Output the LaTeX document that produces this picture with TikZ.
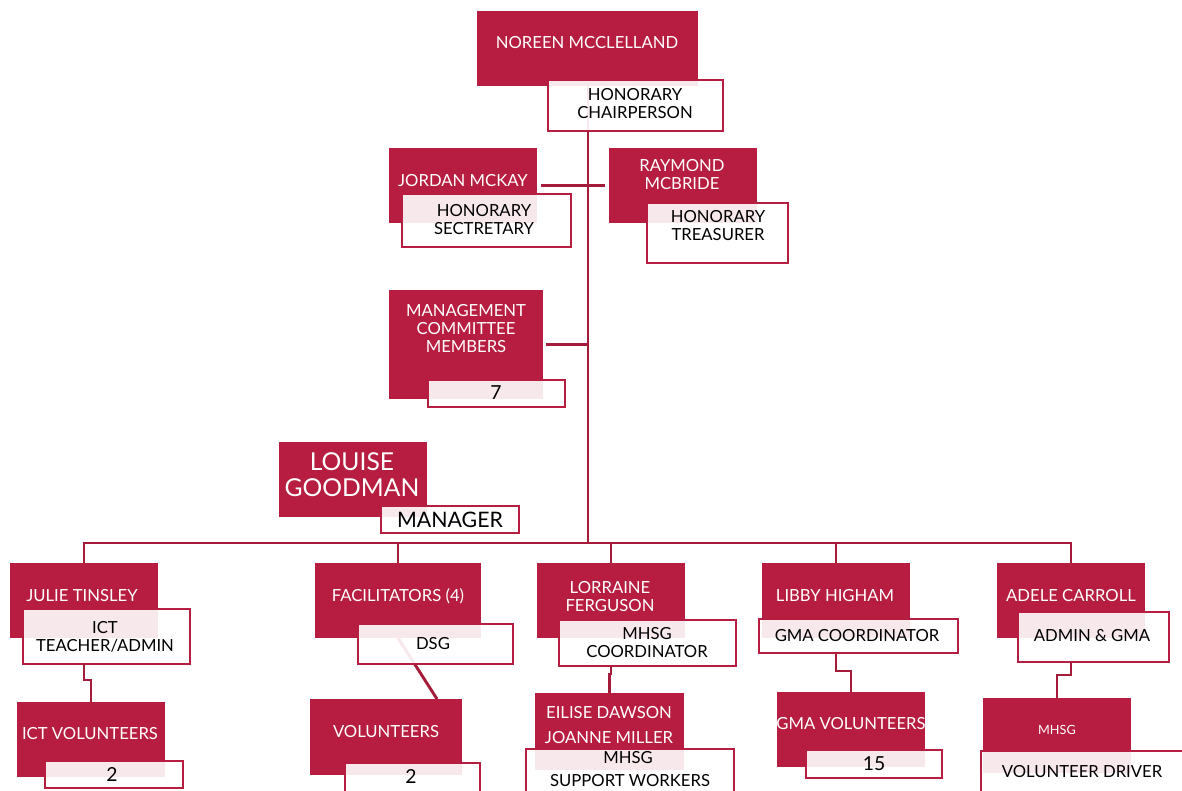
\documentclass[tikz,border=0pt]{standalone}
\usepackage{fontspec}
\setmainfont{Lato}
\usetikzlibrary{fit}
\definecolor{crim}{RGB}{183,29,64}
\definecolor{connc}{RGB}{165,28,58}
\begin{document}
\begin{tikzpicture}[x=0.75pt,y=-0.75pt,
  redbox/.style={fill=crim, draw=none, inner sep=0pt, outer sep=0pt},
  whitebox/.style={fill=white, fill opacity=0.9, draw=crim, line width=2.1pt, inner sep=0pt, outer sep=0pt},
  conn/.style={draw=connc, line width=2.2pt},
  wt/.style={text=white, font=\fontsize{12.5}{13.5}\selectfont, align=center, inner sep=0pt},
  bt/.style={text=black, font=\fontsize{12.5}{13.5}\selectfont, align=center, inner sep=0pt},
  numt/.style={text=black, font=\fontsize{14.5}{15}\selectfont, align=center, inner sep=0pt},
  bigwt/.style={text=white, font=\fontsize{18.5}{19.5}\selectfont, align=center, inner sep=0pt},
  bigbt/.style={text=black, font=\fontsize{16}{17}\selectfont, align=center, inner sep=0pt},
  smallwt/.style={text=white, font=\fontsize{9.5}{11}\selectfont, align=center, inner sep=0pt}]
\useasboundingbox (0,0) rectangle (1182,790);
\clip (0,0) rectangle (1182,790);

% ---------- red name boxes ----------
\node[redbox, fit={(477,11)(698,86)}] (noreen) {};
\node[redbox, fit={(389,148)(537,223)}] (jordan) {};
\node[redbox, fit={(609,148)(757,223)}] (raymond) {};
\node[redbox, fit={(389,290)(543,399)}] (mgmt) {};
\node[redbox, fit={(279,442)(427,517)}] (louise) {};
\node[redbox, fit={(10,563)(158,638)}] (julie) {};
\node[redbox, fit={(17,702)(165,777)}] (ictvol) {};
\node[redbox, fit={(315,563)(481,638)}] (facil) {};
\node[redbox, fit={(310,699)(462,775)}] (vol) {};
\node[redbox, fit={(537,563)(685,638)}] (lorraine) {};
\node[redbox, fit={(535,693)(684,770)}] (eilise) {};
\node[redbox, fit={(762,563)(910,638)}] (libby) {};
\node[redbox, fit={(777,692)(925,767)}] (gmavol) {};
\node[redbox, fit={(997,563)(1145,638)}] (adele) {};
\node[redbox, fit={(983,698)(1131,773)}] (mhsgv) {};

% ---------- connectors (behind the title boxes) ----------
\coordinate (trunktop) at (588,82);
\coordinate (bus) at (588,543);
\draw[conn] (trunktop) -- (bus);
\draw[conn, shorten <=3pt, shorten >=3pt] (jordan.east) -- (raymond.west);
\draw[conn, shorten <=2.2pt] (mgmt.east) -- (mgmt.east -| bus);
\draw[conn] (julie.north) |- (bus) -| (adele.north);
\draw[conn] (facil.north) -- (facil.north |- bus);
\draw[conn] (lorraine.north) -- (lorraine.north |- bus);
\draw[conn] (libby.north) -- (libby.north |- bus);
\coordinate (volin) at (437,699);
\draw[conn] (facil.south) -- (volin);

% ---------- title boxes ----------
\node[whitebox, fit={(548,80)(723,131)}] (chair) {};
\node[whitebox, fit={(402,194)(571,247)}] (secr) {};
\node[whitebox, fit={(647,203)(788,263)}] (treas) {};
\node[whitebox, fit={(428,380)(565,407)}] (mgmtn) {};
\node[whitebox, fit={(381,506)(519,533)}] (manager) {};
\node[whitebox, fit={(23,609)(190,664)}] (ictw) {};
\node[whitebox, fit={(45,761)(183,788)}] (ictn) {};
\node[whitebox, fit={(358,624)(513,664)}] (dsg) {};
\node[whitebox, fit={(345,763)(480,795)}] (voln) {};
\node[whitebox, fit={(559,620)(736,666)}] (mhsgc) {};
\node[whitebox, fit={(526,749)(734,800)}] (support) {};
\node[whitebox, fit={(759,619)(958,653)}] (gmac) {};
\node[whitebox, fit={(806,750)(942,778)}] (gman) {};
\node[whitebox, fit={(1018,612)(1169,662)}] (admin) {};
\node[whitebox, fit={(981,751)(1190,800)}] (driver) {};

% ---------- sub connectors ----------
\draw[conn] (julie.north |- ictw.south) -- ++(0,16) -| (ictvol.north);
\draw[conn] (lorraine.north |- mhsgc.south) -- ++(0,8) -| (eilise.north);
\draw[conn] (libby.north |- gmac.south) -- ++(0,18) -| (gmavol.north);
\draw[conn] (adele.north |- admin.south) -- ++(0,13) -| (mhsgv.north);

% ---------- texts ----------
\node[wt] (tnoreen) at (587,42.5) {NOREEN MCCLELLAND};
\node[bt] (tchair) at (635,104) {HONORARY\\CHAIRPERSON};
\node[wt] (tjordan) at (463,181) {JORDAN MCKAY};
\node[bt] (tsecr) at (484,220) {HONORARY\\SECTRETARY};
\node[wt] (traymond) at (682,174.5) {RAYMOND\\MCBRIDE};
\node[bt] (ttreas) at (718,226) {HONORARY\\TREASURER};
\node[wt] (tmgmt) at (466,329) {MANAGEMENT\\COMMITTEE\\MEMBERS};
\node[numt] (tmgmtn) at (496,392.5) {7};
\node[bigwt] (tlouise) at (352,474.5) {LOUISE\\GOODMAN};
\node[bigbt] (tmanager) at (450,519.5) {MANAGER};
\node[wt] (tjulie) at (82,596) {JULIE TINSLEY};
\node[bt] (tictw) at (105,637) {ICT\\TEACHER/ADMIN};
\node[wt] (tictvol) at (90,734) {ICT VOLUNTEERS};
\node[numt] (tictn) at (112,774.5) {2};
\node[wt] (tfacil) at (398,596) {FACILITATORS (4)};
\node[bt] (tdsg) at (433,644) {DSG};
\node[wt] (tvol) at (386,732) {VOLUNTEERS};
\node[numt] (tvoln) at (411,776) {2};
\node[wt] (tlorraine) at (610,597) {LORRAINE\\FERGUSON};
\node[bt] (tmhsgc) at (647,643) {MHSG\\COORDINATOR};
\node[wt] (teilise1) at (609,713) {EILISE DAWSON};
\node[wt] (teilise2) at (609,738) {JOANNE MILLER};
\node[bt] (tsupp1) at (628,758) {MHSG};
\node[bt] (tsupp2) at (630,780.5) {SUPPORT WORKERS};
\node[wt] (tlibby) at (835,596) {LIBBY HIGHAM};
\node[bt] (tgmac) at (857,636) {GMA COORDINATOR};
\node[wt] (tgmavol) at (851,724) {GMA VOLUNTEERS};
\node[numt] (tgman) at (874,763.5) {15};
\node[wt] (tadele) at (1071,596) {ADELE CARROLL};
\node[bt] (tadmin) at (1092,636) {ADMIN \& GMA};
\node[smallwt] (tmhsgv) at (1057,730) {MHSG};
\node[bt] (tdriver) at (1082,772) {VOLUNTEER DRIVER};
\end{tikzpicture}
\end{document}
